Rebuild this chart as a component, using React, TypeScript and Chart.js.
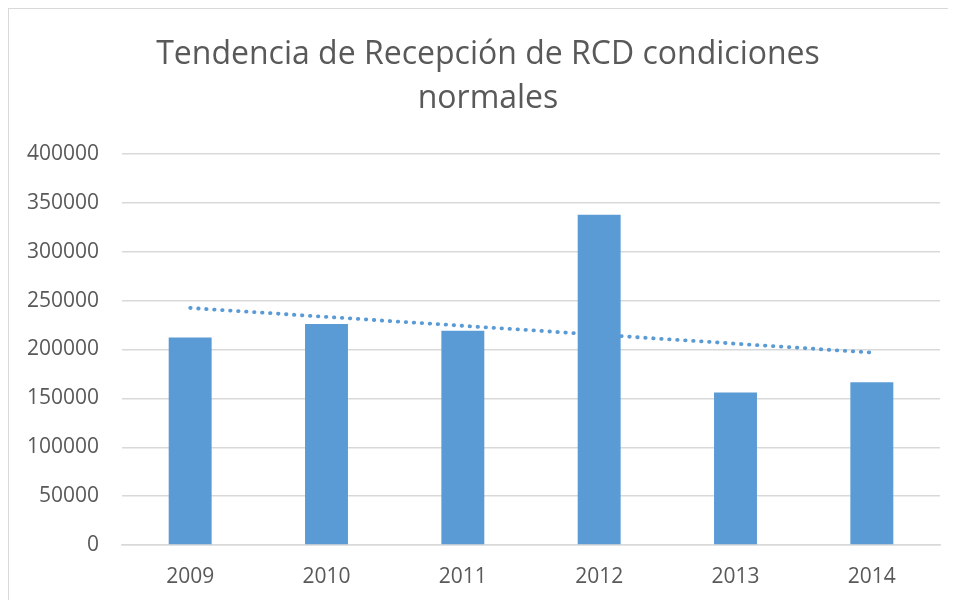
import React, { useEffect, useRef } from "react";
import { Chart, registerables } from "chart.js";

Chart.register(...registerables);

const years = ["2009", "2010", "2011", "2012", "2013", "2014"];
const reception = [212200, 226200, 219100, 337800, 156100, 166600];
const yTicks = [0, 50000, 100000, 150000, 200000, 250000, 300000, 350000, 400000];
const titleLines = ["Tendencia de Recepción de RCD condiciones", "normales"];

function linearTrend(values: number[]): number[] {
  const n = values.length;
  const xs = values.map((_, i) => i + 1);
  const mx = xs.reduce((a, b) => a + b, 0) / n;
  const my = values.reduce((a, b) => a + b, 0) / n;
  let num = 0;
  let den = 0;
  for (let i = 0; i < n; i++) {
    num += (xs[i] - mx) * (values[i] - my);
    den += (xs[i] - mx) * (xs[i] - mx);
  }
  const slope = num / den;
  return xs.map((x) => my + slope * (x - mx));
}

const FONT = "'Open Sans', 'DejaVu Sans', sans-serif";
const TEXT = "#595959";
const GRID = "#D9D9D9";
const BAR = "#5B9BD5";

export default function App() {
  const ref = useRef<HTMLCanvasElement | null>(null);

  useEffect(() => {
    document.body.style.overflow = "hidden";
    const canvas = ref.current;
    if (!canvas) return;

    const titlePlugin = {
      id: "excelTitle",
      afterDraw(chart: any) {
        const ctx = chart.ctx;
        ctx.save();
        ctx.fillStyle = TEXT;
        ctx.font = `32px ${FONT}`;
        ctx.textAlign = "center";
        ctx.textBaseline = "alphabetic";
        ctx.fillText(titleLines[0], 479, 55);
        ctx.fillText(titleLines[1], 479, 99);
        ctx.restore();
      },
    };

    const chart = new Chart(canvas, {
      type: "bar",
      data: {
        labels: years,
        datasets: [
          {
            type: "line",
            label: "Tendencia",
            data: linearTrend(reception),
            borderColor: BAR,
            borderWidth: 3.8,
            borderDash: [0.5, 7.5],
            borderCapStyle: "round",
            pointRadius: 0,
            fill: false,
            tension: 0,
            order: 0,
          } as any,
          {
            type: "bar",
            label: "Recepción",
            data: reception,
            backgroundColor: BAR,
            borderWidth: 0,
            barPercentage: 0.315,
            categoryPercentage: 1,
            order: 1,
          },
        ],
      },
      options: {
        responsive: false,
        animation: false,
        layout: { padding: { top: 145, right: 16, left: 0, bottom: 0 } },
        plugins: {
          legend: { display: false },
          title: { display: false },
          tooltip: { enabled: false },
        },
        scales: {
          x: {
            grid: { display: false, drawTicks: false },
            border: { display: true, color: GRID, width: 1.5 },
            ticks: {
              color: TEXT,
              font: { family: FONT, size: 21 },
              padding: 19,
            },
            afterFit(scale: any) {
              scale.height = 55;
            },
          },
          y: {
            min: 0,
            max: 400000,
            afterBuildTicks(scale: any) {
              scale.ticks = yTicks.map((v) => ({ value: v }));
            },
            grid: { color: GRID, lineWidth: 1.5, drawTicks: false },
            border: { display: false },
            ticks: {
              color: TEXT,
              font: { family: FONT, size: 21 },
              padding: 23,
              callback: (v: any) => String(v),
            },
            afterFit(scale: any) {
              scale.width = 113;
            },
          },
        },
      },
      plugins: [titlePlugin],
    });

    return () => chart.destroy();
  }, []);

  return (
    <div
      style={{
        width: 960,
        height: 600,
        border: "1px solid #D9D9D9",
        background: "#fff",
        boxSizing: "content-box",
      }}
    >
      <canvas ref={ref} width={947} height={591} style={{ display: "block" }} />
    </div>
  );
}
